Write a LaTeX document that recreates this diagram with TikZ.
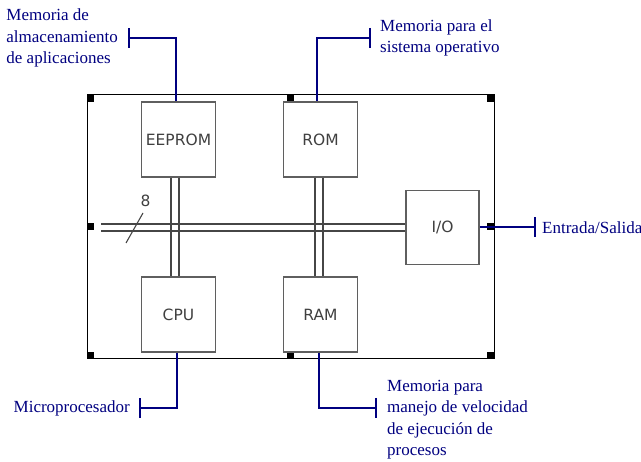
\documentclass[tikz,border=0pt]{standalone}
\usepackage{fontspec}
\setmainfont{Liberation Serif}
\newfontfamily\boxfont{DejaVu Sans}
\usetikzlibrary{positioning,arrows.meta}
\definecolor{lbNavy}{RGB}{0,0,128}
\definecolor{lbGray}{RGB}{95,95,95}
\definecolor{lbText}{RGB}{64,64,64}
\definecolor{lbBus}{RGB}{70,70,70}

\begin{document}
\begin{tikzpicture}[x=1pt, y=-1pt,
  chip/.style={draw=lbGray, line width=1.5pt, fill=white, minimum width=74pt, minimum height=75pt,
    font=\boxfont\fontsize{15.5}{18}\selectfont, text=lbText},
  bus/.style={draw=lbBus, line width=1.1pt},
  handle/.style={fill=black, inner sep=0pt, minimum size=7pt},
  lead/.style={draw=lbNavy, line width=2pt, -{Bar[width=20pt]}},
  lbl/.style={font=\fontsize{17}{21.5}\selectfont, text=lbNavy, align=left, inner sep=0pt}]
\useasboundingbox (0,0) rectangle (641,462);
% outer board
\node[draw, line width=1pt, minimum width=407pt, minimum height=264pt, inner sep=0pt] (board) at (290.5,227) {};
\foreach \a in {north west, north, north east, west, east, south west, south, south east}
  \node[handle, anchor=\a] at (board.\a) {};
% chips
\node[chip] (eeprom) at (178.5,139.5) {EEPROM};
\node[chip] (rom)    at (320.5,139.5) {ROM};
\node[chip] (cpu)    at (178.5,314.5) {CPU};
\node[chip] (ram)    at (320.5,314.5) {RAM};
\node[chip, minimum width=73pt, minimum height=74pt] (io) at (442.5,227.5) {I/O};
% bus lines
\coordinate (busL) at (101,227.5);
\foreach \d in {-3.5,3.5}
  \draw[bus] ([yshift=\d]busL) -- ([yshift=\d]busL -| io.west);
\foreach \d in {-4,4}{
  \draw[bus] ([xshift=\d-3.5]eeprom.south) -- ([xshift=\d-3.5]cpu.north);
  \draw[bus] ([xshift=\d-1.5]rom.south) -- ([xshift=\d-1.5]ram.north);
}
\draw[bus] (126,243) -- (143,213);
\node[font=\boxfont\fontsize{15.5}{18}\selectfont, text=lbText, inner sep=0pt] (width8) at (145.5,201) {8};
% leaders and labels
\coordinate (tEE)  at (128,38);
\coordinate (tROM) at (371,38);
\coordinate (tCPU) at (139,408);
\coordinate (tRAM) at (377,408);
\coordinate (tIO)  at (536,227.5);
\draw[lead] ([xshift=-3]eeprom.north) |- (tEE);
\draw[lead] ([xshift=-4]rom.north) |- (tROM);
\draw[lead] ([xshift=-2]cpu.south) |- (tCPU);
\draw[lead] ([xshift=-1.5]ram.south) |- (tRAM);
\draw[lead] (io.east) -- (tIO);
\node[lbl, left=10pt of tEE] (lEE) {Memoria de\\almacenamiento\\de aplicaciones};
\node[lbl, right=9pt of tROM] (lROM) {Memoria para el\\sistema operativo};
\node[lbl, left=9pt of tCPU] (lCPU) {Microprocesador};
\node[lbl, right=6pt of tIO] (lIO) {Entrada/Salida};
\node[lbl, anchor=north west] (lRAM) at ([xshift=10pt, yshift=28pt]tRAM)
  {Memoria para\\manejo de velocidad\\de ejecución de\\procesos};
\end{tikzpicture}
\end{document}
